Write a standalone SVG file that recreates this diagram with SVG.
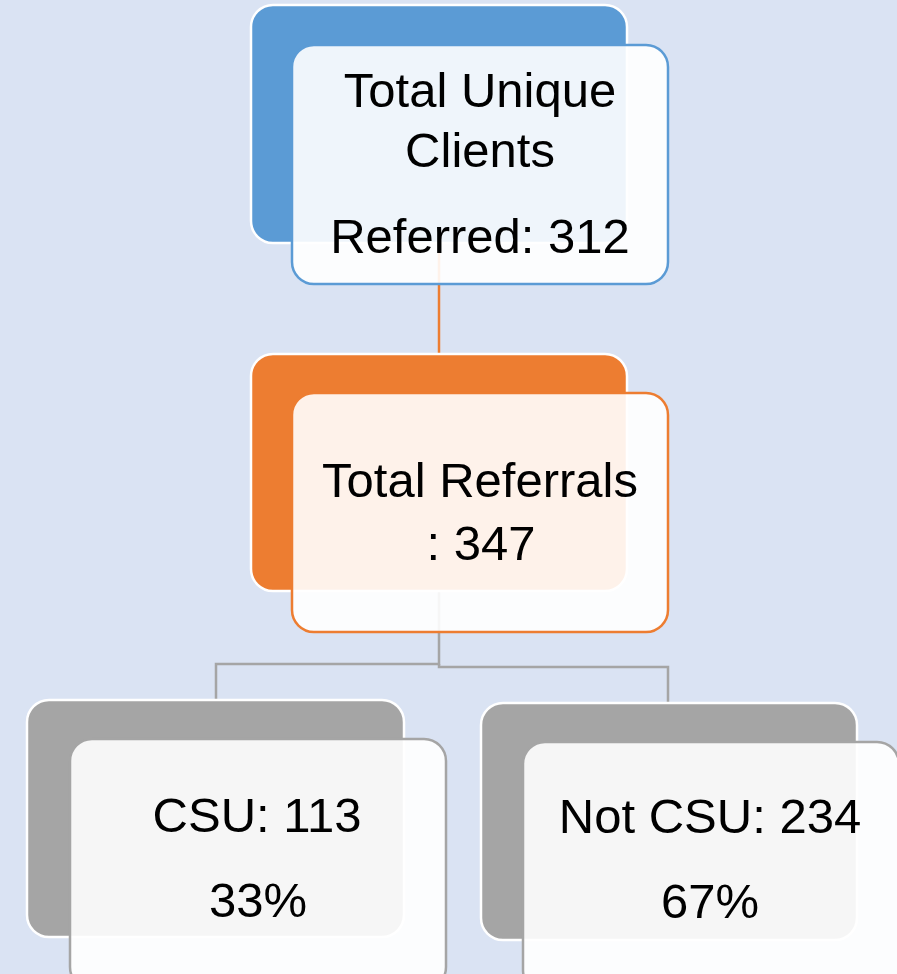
<svg xmlns="http://www.w3.org/2000/svg" width="897" height="974" viewBox="0 0 897 974">
<style>
.back{stroke:#ffffff;stroke-width:2.5}
.front{fill:#ffffff;fill-opacity:0.9;stroke-width:2.5}
.t{font-family:"Liberation Sans",Arial,sans-serif;font-size:49px;fill:#000000;text-anchor:middle}
.conn{fill:none;stroke-width:2.5}
</style>
<rect width="897" height="974" fill="#dae3f3"/>
<g id="connectors">
<path class="conn" stroke="#ed7d31" d="M439 243 V355"/>
<path class="conn" stroke="#a5a5a5" d="M439 591 V664 H216 V701"/>
<path class="conn" stroke="#a5a5a5" d="M439 664 V667 H668 V704"/>
</g>
<g id="node-clients">
<rect class="back" x="251" y="5" width="376" height="238" rx="22" fill="#5b9bd5"/>
<rect class="front" x="292" y="45" width="376" height="239" rx="22" stroke="#5b9bd5"/>
<text class="t" x="480" y="107">Total Unique</text>
<text class="t" x="480" y="167">Clients</text>
<text class="t" x="480" y="253">Referred: 312</text>
</g>
<g id="node-referrals">
<rect class="back" x="251" y="354" width="376" height="237" rx="22" fill="#ed7d31"/>
<rect class="front" x="292" y="393" width="376" height="239" rx="22" stroke="#ed7d31"/>
<text class="t" x="480" y="497">Total Referrals</text>
<text class="t" x="481" y="560">: 347</text>
</g>
<g id="node-csu">
<rect class="back" x="27" y="700" width="377" height="237" rx="22" fill="#a5a5a5"/>
<rect class="front" x="70" y="739" width="376" height="250" rx="22" stroke="#a5a5a5"/>
<text class="t" x="257" y="832">CSU: 113</text>
<text class="t" x="258" y="917">33%</text>
</g>
<g id="node-notcsu">
<rect class="back" x="481" y="703" width="376" height="237" rx="22" fill="#a5a5a5"/>
<rect class="front" x="523" y="742" width="376" height="250" rx="22" stroke="#a5a5a5"/>
<text class="t" x="710" y="833">Not CSU: 234</text>
<text class="t" x="710" y="918">67%</text>
</g>
</svg>
